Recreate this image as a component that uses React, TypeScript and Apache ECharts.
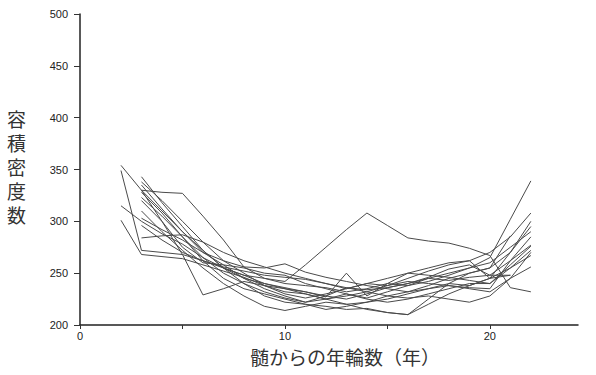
import React, { useEffect, useRef } from "react";
import * as echarts from "echarts";

const years: number[] = [2, 3, 4, 5, 6, 7, 8, 9, 10, 11, 12, 13, 14, 15, 16, 17, 18, 19, 20, 21, 22];

// each series: first year it starts at, then values for consecutive years
const s1 = { start: 2, v: [354, 330, 310, 290, 270, 258, 245, 235, 228, 222, 225, 230, 226, 232, 238, 242, 248, 255, 265, 302, 339] };
const s2 = { start: 2, v: [349, 272, 270, 268, 262, 255, 248, 240, 235, 232, 228, 225, 230, 236, 240, 245, 250, 255, 260, 275, 290] };
const s3 = { start: 2, v: [315, 300, 288, 278, 265, 255, 248, 245, 240, 238, 236, 232, 235, 240, 238, 245, 243, 246, 248, 262, 277] };
const s4 = { start: 2, v: [301, 268, 266, 264, 258, 252, 246, 238, 232, 230, 225, 220, 222, 225, 230, 235, 240, 238, 245, 255, 267] };
const s5 = { start: 3, v: [343, 318, 295, 272, 255, 240, 228, 222, 220, 218, 215, 216, 212, 210, 220, 230, 238, 245, 270, 295] };
const s6 = { start: 3, v: [330, 328, 327, 305, 282, 256, 245, 242, 258, 275, 292, 308, 296, 284, 281, 279, 274, 267, 236, 232] };
const s7 = { start: 3, v: [338, 320, 300, 280, 262, 250, 238, 230, 226, 230, 235, 240, 238, 245, 252, 258, 262, 270, 285, 308] };
const s8 = { start: 3, v: [323, 305, 285, 262, 245, 235, 230, 225, 220, 215, 218, 222, 228, 232, 238, 245, 250, 255, 286] };
const s9 = { start: 3, v: [320, 300, 275, 260, 258, 255, 250, 248, 240, 235, 230, 225, 222, 225, 230, 235, 240, 240, 255, 272] };
const s10 = { start: 3, v: [303, 292, 282, 270, 262, 256, 255, 259, 251, 246, 242, 238, 235, 232, 235, 238, 235, 232, 245, 256] };
const s11 = { start: 3, v: [284, 286, 287, 280, 270, 262, 256, 250, 245, 240, 235, 240, 245, 250, 255, 260, 262, 245, 248] };
const s12 = { start: 3, v: [330, 300, 268, 229, 235, 242, 238, 235, 230, 225, 228, 232, 238, 242, 240, 238, 236, 235, 262, 285] };
const s13 = { start: 3, v: [335, 312, 290, 272, 255, 245, 240, 236, 232, 227, 250, 228, 240, 250, 248, 246, 243, 240, 258, 276] };
const s14 = { start: 3, v: [310, 290, 272, 255, 240, 228, 218, 214, 218, 222, 220, 215, 212, 210, 225, 240, 250, 255, 270, 300] };
const s15 = { start: 3, v: [328, 308, 285, 265, 250, 240, 232, 226, 222, 228, 236, 232, 228, 226, 228, 225, 222, 228, 245, 270] };
const s16 = { start: 3, v: [296, 282, 270, 262, 256, 252, 248, 246, 244, 240, 236, 234, 236, 240, 246, 254, 258, 248, 248] };

const allSeries = [s1, s2, s3, s4, s5, s6, s7, s8, s9, s10, s11, s12, s13, s14, s15, s16];

const yTicks: number[] = [200, 250, 300, 350, 400, 450, 500];
const xTickValues: number[] = [0, 5, 10, 15, 20];
const xLabelValues: number[] = [0, 10, 20];

const yTitle = "容積密度数";
const xTitle = "髄からの年輪数（年）";

export default function App() {
  const ref = useRef<HTMLDivElement>(null);
  useEffect(() => {
    if (!ref.current) return;
    const chart = echarts.init(ref.current, undefined, { renderer: "svg" });
    const series = allSeries.map((s) => ({
      type: "line",
      data: s.v.map((val, i) => [years[years.indexOf(s.start) + i], val]),
      showSymbol: false,
      symbol: "none",
      lineStyle: { color: "#4a4a4a", width: 1 },
      silent: true,
    }));
    const yTitleChars = yTitle.split("").map((ch, i) => ({
      type: "text",
      left: 7,
      top: 108 + i * 24,
      style: {
        text: ch,
        fontSize: 19,
        fontFamily: "Noto Sans CJK JP",
        lineHeight: 20,
        fill: "#333",
      },
    }));
    chart.setOption({
      animation: false,
      backgroundColor: "#ffffff",
      grid: { left: 80, top: 14, width: 498, height: 311 },
      xAxis: {
        type: "value",
        min: 0,
        max: 24.3,
        axisLine: { show: true, lineStyle: { color: "#222", width: 1.5 } },
        axisTick: { show: true, length: 4, customValues: xTickValues, lineStyle: { color: "#333" } },
        axisLabel: {
          customValues: xLabelValues,
          color: "#222",
          fontSize: 11,
          fontFamily: "Liberation Sans",
          margin: 5,
        },
        splitLine: { show: false },
      },
      yAxis: {
        type: "value",
        min: 200,
        max: 500,
        interval: 50,
        axisLine: { show: true, lineStyle: { color: "#222", width: 1.5 } },
        axisTick: { show: true, length: 6, lineStyle: { color: "#333" } },
        axisLabel: {
          customValues: yTicks,
          color: "#222",
          fontSize: 11,
          fontFamily: "Liberation Sans",
          margin: 12,
        },
        splitLine: { show: false },
      },
      graphic: [
        ...yTitleChars,
        {
          type: "text",
          left: 250,
          top: 346,
          style: {
            text: xTitle,
            fontSize: 19,
            fontFamily: "Noto Sans CJK JP",
            lineHeight: 20,
            fill: "#333",
          },
        },
      ],
      series,
    });
    return () => chart.dispose();
  }, []);
  return <div ref={ref} style={{ width: 596, height: 375, position: "fixed", left: 0, top: 0 }} />;
}
